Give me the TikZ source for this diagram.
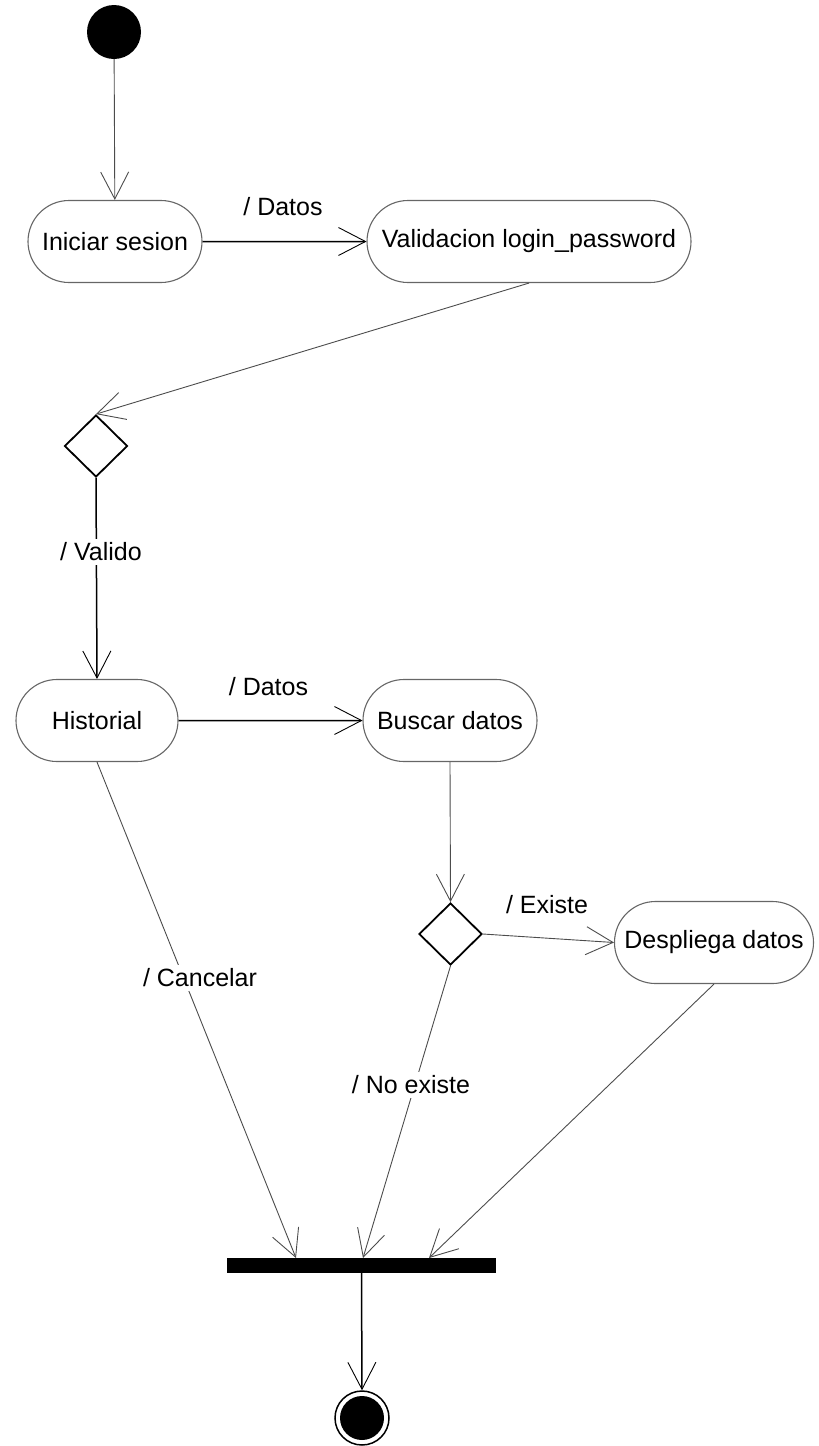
\documentclass[tikz,border=0pt]{standalone}
\usepackage{fontspec}
\setmainfont{Liberation Sans}
\usetikzlibrary{arrows.meta,shapes.misc,shapes.geometric}

\begin{document}
\begin{tikzpicture}[x=1pt,y=-1pt,
  every node/.style={font=\fontsize{25}{30}\selectfont},
  action/.style={rounded rectangle, draw=black!60, line width=1.1pt,
    minimum height=82pt, inner xsep=4pt, inner ysep=0pt},
  decision/.style={diamond, draw=black, line width=1.8pt,
    minimum width=63pt, minimum height=62pt, inner sep=0pt},
  syncbar/.style={rectangle, fill=black, minimum width=269pt,
    minimum height=15pt, inner sep=0pt},
  startdot/.style={circle, fill=black, minimum size=54pt, inner sep=0pt},
  enddot/.style={circle, draw=black, line width=1.5pt, minimum size=54pt, inner sep=0pt},
  guard/.style={fill=white, inner xsep=2pt, inner ysep=4pt},
  tip/.style={-{Straight Barb[length=27pt,width=28pt,line width=0.9pt]}},
  thinflow/.style={draw=black!70, line width=0.9pt, tip},
  boldflow/.style={draw=black, line width=1.5pt, tip}]

\useasboundingbox (0,0) rectangle (819,1446);

% nodes
\node[startdot] (start) at (114,32) {};
\node[action, minimum width=182pt] (login) at (115,241.5) {Iniciar sesion};
\node[action, minimum width=332pt] (valid) at (529,241.5) {Validacion login\_password};
\node[decision] (d1) at (96,446) {};
\node[action, minimum width=170pt] (hist) at (97,720.5) {Historial};
\node[action, minimum width=182pt] (buscar) at (450,720.5) {Buscar datos};
\node[decision] (d2) at (450.5,934) {};
\node[action, minimum width=207pt] (desp) at (714,942.5) {Despliega datos};
\node[syncbar] (bar) at (361.5,1265.5) {};
\node[enddot] (fin) at (362,1418) {};
\fill[black] (fin.center) circle[radius=22pt];

% anchor points on the join bar
\coordinate (barA) at (296,1258);
\coordinate (barB) at (363,1258);
\coordinate (barC) at (429,1258);

% connectors
\draw[thinflow] (start) -- (login);
\draw[boldflow] (login) -- (valid);
\draw[thinflow] (valid.south) -- (d1.north);
\draw[boldflow] (d1.south) -- (hist.north);
\draw[boldflow] (hist) -- (buscar);
\draw[thinflow] (buscar.south) -- (d2.north);
\draw[thinflow] (d2.east) -- (desp.west);
\draw[thinflow] (hist.south) -- (barA);
\draw[thinflow] (d2.south) -- (barB);
\draw[thinflow] (desp.south) -- (barC);
\draw[boldflow] (bar.south) -- (fin.north);

% guard labels
\node (l1) at (283,207) {/ Datos};
\node[guard] (l2) at (101,552) {/ Valido};
\node (l3) at (268.5,687) {/ Datos};
\node (l4) at (547,905) {/ Existe};
\node[guard] (l5) at (200,978) {/ Cancelar};
\node[guard] (l6) at (411,1085) {/ No existe};
\end{tikzpicture}
\end{document}
